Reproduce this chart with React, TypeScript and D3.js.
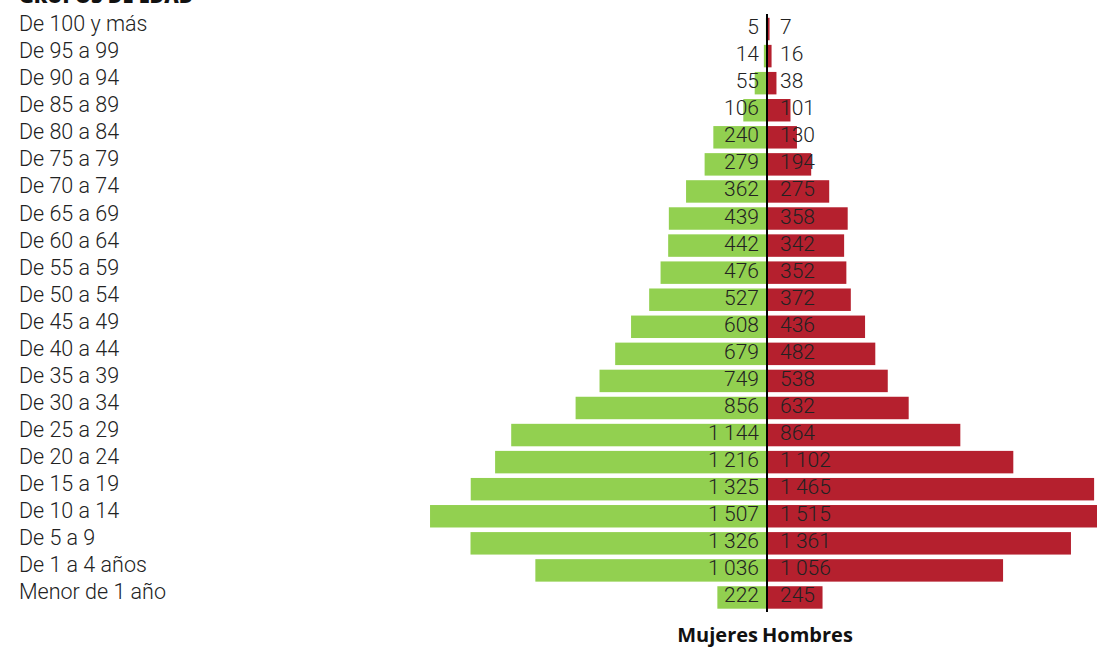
import React from "react";
import * as d3 from "d3";

const groups = ["De 100 y más","De 95 a 99","De 90 a 94","De 85 a 89","De 80 a 84","De 75 a 79","De 70 a 74","De 65 a 69","De 60 a 64","De 55 a 59","De 50 a 54","De 45 a 49","De 40 a 44","De 35 a 39","De 30 a 34","De 25 a 29","De 20 a 24","De 15 a 19","De 10 a 14","De 5 a 9","De 1 a 4 años","Menor de 1 año"];
const mujeres = [5,14,55,106,240,279,362,439,442,476,527,608,679,749,856,1144,1216,1325,1507,1326,1036,222];
const hombres = [7,16,38,101,130,194,275,358,342,352,372,436,482,538,632,864,1102,1465,1515,1361,1056,245];
const seriesNames = ["Mujeres", "Hombres"];
const title = "GRUPOS DE EDAD";

const W = 1097, H = 650;
const CX = 767;
const FONT = "Roboto, sans-serif";
const BOLD = "'Open Sans', sans-serif";

export default function App() {
  const y = d3.scaleBand<string>().domain(groups).range([15.5, 611]).paddingInner(0.17).paddingOuter(0.085);
  const xL = d3.scaleLinear().domain([0, 1500]).range([CX, CX - 1500 * 0.2236]);
  const xR = d3.scaleLinear().domain([0, 1500]).range([CX + 1, CX + 1 + 1500 * 0.2226]);
  const fmt = (v: number) => d3.format(",")(v).replace(/,/g, "\u2009");
  const bw = y.bandwidth();
  return (
    <svg width={W} height={H} style={{ position: "absolute", left: 0, top: 0, display: "block" }}>
      <text x={19} y={3} fontFamily={BOLD} fontWeight={800} fontSize={20} fill="#111">{title}</text>
      {groups.map((g, i) => {
        const yc = (y(g) as number) + bw / 2;
        return (
          <g key={g}>
            <text x={19} y={yc + 2} fontFamily={FONT} fontWeight={300} fontSize={21.5} fill="#222">{g}</text>
            <rect x={xL(mujeres[i])} y={y(g)} width={xL(0) - xL(mujeres[i])} height={bw} fill="#92d050" />
            <rect x={xR(0)} y={y(g)} width={xR(hombres[i]) - xR(0)} height={bw} fill="#b5202e" />
            <text x={759} y={yc + 5} textAnchor="end" fontFamily={FONT} fontWeight={300} fontSize={21} fill="#222">{fmt(mujeres[i])}</text>
            <text x={780} y={yc + 5} fontFamily={FONT} fontWeight={300} fontSize={21} fill="#222">{fmt(hombres[i])}</text>
          </g>
        );
      })}
      <line x1={CX} x2={CX} y1={14} y2={612} stroke="#000" strokeWidth={2} />
      <text x={758} y={642} textAnchor="end" fontFamily={BOLD} fontWeight={700} fontSize={20} fill="#111">{seriesNames[0]}</text>
      <text x={762} y={642} fontFamily={BOLD} fontWeight={700} fontSize={20} fill="#111">{seriesNames[1]}</text>
    </svg>
  );
}
